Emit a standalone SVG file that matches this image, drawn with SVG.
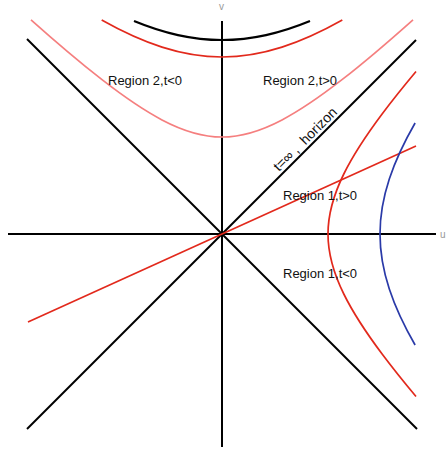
<svg xmlns="http://www.w3.org/2000/svg" width="447" height="450" viewBox="0 0 447 450">
<style>
.ax{stroke:#000;stroke-width:2;fill:none}
.blk{stroke:#000;stroke-width:2.2;fill:none}
.red{stroke:#e2291c;stroke-width:1.7;fill:none}
.pink{stroke:#f57f7f;stroke-width:1.7;fill:none}
.blue{stroke:#2a3aa8;stroke-width:1.7;fill:none}
.lbl{font-family:"Liberation Sans",Arial,sans-serif;font-size:13px;fill:#111}
.axl{font-family:"Liberation Sans",Arial,sans-serif;font-size:10px;fill:#999}
</style>
<rect width="447" height="450" fill="#fff"/>
<g id="connectors">
<line id="u-axis" class="ax" x1="8" y1="234" x2="436" y2="234"/>
<line id="v-axis" class="ax" x1="222" y1="21" x2="222" y2="447"/>
<line id="diag1" class="ax" x1="27" y1="39" x2="417" y2="429"/>
<line id="diag2" class="ax" x1="27" y1="429" x2="416" y2="40"/>
<line id="tline" class="red" x1="28" y1="322" x2="416" y2="146"/>
<path id="singularity" class="blk" d="M134,20.97 C148.67,27.03 163.33,31.83 178,35.07 C192.67,38.31 207.33,40 222,40 C236.67,40 251.33,38.31 266,35.07 C280.67,31.83 295.33,27.03 310,20.97"/>
<path id="r2-red" class="red" d="M101.7,20 C121.8,31.3 141.9,40.66 162,47.11 C182,53.53 202,57 222,57 C242,57 262,53.53 282,47.11 C302.1,40.66 322.2,31.3 342.3,20"/>
<path id="r2-pink" class="pink" d="M31,19.78 C54.67,40.88 78.67,61.29 102,79.7 C122,95.25 142,109.42 162,119.94 C182,130.46 202,137 222,137 C242,137 262,130.46 282,119.94 C302,109.42 322,95.25 342,79.7 C365.67,61.29 389.33,40.88 413,19.78"/>
<path id="r1-red" class="red" d="M416.01,396.5 C404.14,382.33 392.73,368.17 382.11,354 C367.12,334 353.65,314 343.8,294 C333.95,274 328,254 328,234 C328,214 333.95,194 343.8,174 C353.65,154 367.12,134 382.11,114 C392.73,99.83 404.14,85.67 416.01,71.5"/>
<path id="r1-blue" class="blue" d="M415.1,345 C404.37,326.33 395.44,307.67 389.3,289 C383.27,270.67 380,252.33 380,234 C380,215.67 383.27,197.33 389.3,179 C395.44,160.33 404.37,141.67 415.1,123"/>
</g>
<g id="label-v"><text class="axl" x="219" y="10">v</text></g>
<g id="label-u"><text class="axl" x="440" y="238">u</text></g>
<g id="region2-neg"><text class="lbl" x="108" y="85">Region 2,t&lt;0</text></g>
<g id="region2-pos"><text class="lbl" x="263" y="85">Region 2,t&gt;0</text></g>
<g id="region1-pos"><text class="lbl" x="283" y="200">Region 1,t&gt;0</text></g>
<g id="region1-neg"><text class="lbl" x="283" y="278">Region 1,t&lt;0</text></g>
<g id="horizon"><text class="lbl" style="font-size:14px;white-space:pre" x="279" y="172" transform="rotate(-45 279 172)">t=∞ ,  horizon</text></g>
</svg>
